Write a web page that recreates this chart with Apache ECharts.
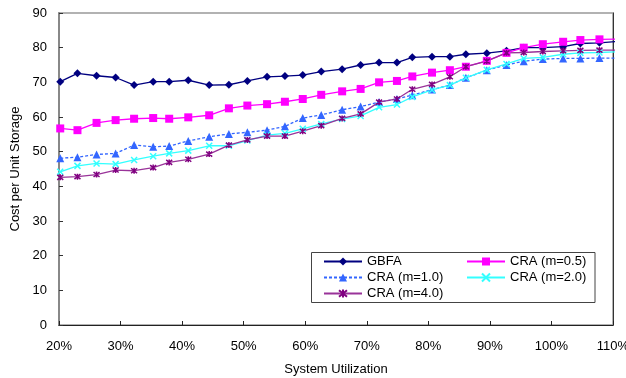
<!DOCTYPE html>
<html>
<head>
<meta charset="utf-8">
<script src="https://cdn.jsdelivr.net/npm/echarts@6/dist/echarts.min.js"></script>
<style>
  html, body { margin: 0; padding: 0; background: #fff; }
  #chart { width: 626px; height: 378px; }
</style>
</head>
<body>
<div id="chart"></div>
<script>
// System utilization (%) at each measured point
const utilization = [20.2, 23.0, 26.1, 29.2, 32.2, 35.3, 37.9, 41.0, 44.4, 47.6,
  50.6, 53.8, 56.7, 59.6, 62.6, 66.0, 69.0, 72.0, 74.9, 77.4,
  80.6, 83.5, 86.1, 89.5, 92.7, 95.5, 98.6, 101.9, 104.7, 107.8, 110.6];

const gbfa = [70.2, 72.6, 71.9, 71.4, 69.2, 70.2, 70.2, 70.6, 69.2, 69.3,
  70.4, 71.6, 71.8, 72.1, 73.1, 73.8, 75.0, 75.7, 75.7, 77.2,
  77.4, 77.4, 78.1, 78.4, 79.1, 80.0, 80.0, 80.3, 81.2, 81.4, 81.8];

const craM05 = [56.7, 56.2, 58.3, 59.1, 59.5, 59.7, 59.5, 59.9, 60.5, 62.5,
  63.3, 63.7, 64.4, 65.2, 66.4, 67.4, 68.1, 70.0, 70.4, 71.7,
  72.8, 73.5, 74.5, 76.2, 78.5, 80.0, 81.0, 81.7, 82.2, 82.4, 82.5];

const craM10 = [48.1, 48.4, 49.2, 49.5, 51.9, 51.4, 51.6, 53.1, 54.3, 55.1,
  55.6, 56.2, 57.3, 59.7, 60.6, 62.1, 63.0, 64.3, 65.2, 66.3,
  67.9, 69.2, 71.3, 73.5, 75.0, 76.1, 76.7, 76.9, 76.9, 77.0, 77.0];

const craM20 = [44.2, 45.9, 46.6, 46.4, 47.6, 48.7, 49.5, 50.3, 51.7, 51.7,
  53.2, 54.8, 55.3, 56.6, 58.0, 59.4, 60.3, 62.8, 63.6, 65.8,
  67.8, 69.2, 71.3, 73.6, 75.3, 76.9, 77.2, 78.1, 78.5, 78.6, 78.8];

const craM40 = [42.6, 42.8, 43.4, 44.7, 44.5, 45.4, 46.9, 47.8, 49.3, 51.9,
  53.4, 54.5, 54.5, 55.9, 57.5, 59.6, 60.9, 64.3, 65.2, 68.0,
  69.4, 71.6, 74.5, 76.1, 78.5, 78.6, 78.9, 79.1, 79.2, 79.3, 79.3];

const xTicks = { min: 20, max: 110, step: 10 };
const yTicks = { min: 0, max: 90, step: 10 };

const FONT = '"Liberation Sans", Arial, sans-serif';
const pair = ys => utilization.map((x, i) => [x, ys[i]]);

const CROSS = 'path://M0,0L10,10M10,0L0,10';
const STAR = 'path://M0,0L10,10M10,0L0,10M5,-1L5,11';

function lineSeries(name, data, color, symbol, size, extra) {
  return Object.assign({
    name: name,
    type: 'line',
    data: pair(data),
    symbol: symbol,
    symbolSize: size,
    clip: true,
    showAllSymbol: true,
    lineStyle: { color: color, width: 1.3 },
    itemStyle: { color: color },
    emphasis: { disabled: true },
    animation: false
  }, extra || {});
}

const chart = echarts.init(document.getElementById('chart'), null, { renderer: 'canvas' });

const legendText = { fontFamily: FONT, fontSize: 13, color: '#000', lineHeight: 15 };

chart.setOption({
  backgroundColor: '#fff',
  animation: false,
  grid: {
    left: 59, right: 13, top: 13, bottom: 53,
    containLabel: false,
    outerBoundsMode: 'none',
    show: true, borderColor: '#999', borderWidth: 1.5
  },
  xAxis: {
    type: 'value',
    min: xTicks.min, max: xTicks.max, interval: xTicks.step,
    name: 'System Utilization',
    nameLocation: 'middle',
    nameGap: 38,
    nameTextStyle: { fontFamily: FONT, fontSize: 13, color: '#000' },
    axisLine: { show: true, onZero: false, lineStyle: { color: '#222', width: 1 } },
    axisTick: { show: true, inside: true, length: 4, lineStyle: { color: '#222' } },
    axisLabel: { formatter: '{value}%', margin: 15, fontFamily: FONT, fontSize: 13, color: '#000' },
    splitLine: { show: false }
  },
  yAxis: [{
    type: 'value',
    min: yTicks.min, max: yTicks.max, interval: yTicks.step,
    name: 'Cost per Unit Storage',
    nameLocation: 'middle',
    nameGap: 29,
    nameTextStyle: { fontFamily: FONT, fontSize: 13, color: '#000' },
    axisLine: { show: true, onZero: false, lineStyle: { color: '#888', width: 2 } },
    axisTick: { show: true, inside: true, length: 4, lineStyle: { color: '#333' } },
    axisLabel: { margin: 12, fontFamily: FONT, fontSize: 13, color: '#000' },
    splitLine: { show: false }
  }, {
    type: 'value',
    position: 'right',
    min: yTicks.min, max: yTicks.max,
    axisLine: { show: true, lineStyle: { color: '#333', width: 1 } },
    axisTick: { show: false },
    axisLabel: { show: false },
    splitLine: { show: false }
  }],
  legend: [{
    orient: 'vertical',
    left: 323, top: 254,
    padding: 0,
    itemWidth: 38, itemHeight: 10, itemGap: 1,
    textStyle: legendText,
    data: ['GBFA', 'CRA (m=1.0)', 'CRA (m=4.0)']
  }, {
    orient: 'vertical',
    left: 466, top: 254,
    padding: 0,
    itemWidth: 38, itemHeight: 10, itemGap: 1,
    textStyle: legendText,
    data: ['CRA (m=0.5)', 'CRA (m=2.0)']
  }],
  graphic: [{
    type: 'rect',
    z: -1,
    shape: { x: 311.5, y: 252.5, width: 283.5, height: 50 },
    style: { fill: '#fff', stroke: '#444', lineWidth: 1 }
  }],
  series: [
    lineSeries('GBFA', gbfa, '#000080', 'diamond', 8),
    lineSeries('CRA (m=0.5)', craM05, '#ff00ff', 'rect', 8),
    lineSeries('CRA (m=1.0)', craM10, '#3366ff', 'triangle', 8, {
      lineStyle: { color: '#3366ff', width: 1.3, type: [3, 2] }
    }),
    lineSeries('CRA (m=2.0)', craM20, '#33ffff', CROSS, 6, {
      itemStyle: { color: 'rgba(0,0,0,0)', borderColor: '#33ffff', borderWidth: 1.5 }
    }),
    lineSeries('CRA (m=4.0)', craM40, '#993399', STAR, 6, {
      itemStyle: { color: 'rgba(0,0,0,0)', borderColor: '#800080', borderWidth: 1.5 }
    })
  ]
});
</script>
</body>
</html>
